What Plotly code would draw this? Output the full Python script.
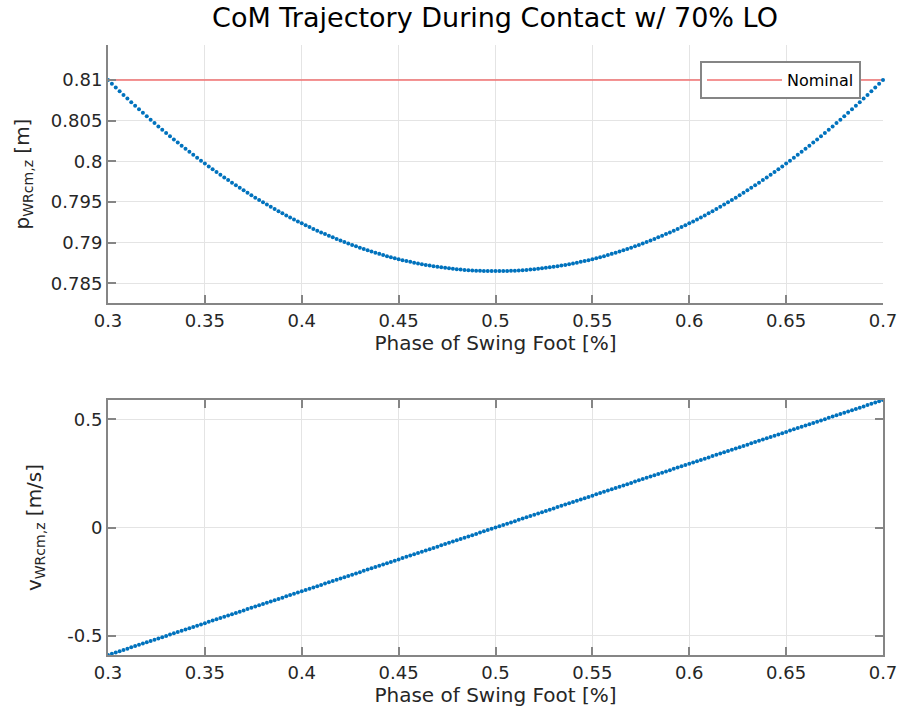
import plotly.graph_objects as go

# ---- data ----
phase = [
    0.300, 0.302, 0.304, 0.306, 0.308, 0.310, 0.312, 0.314, 0.316, 0.318,
    0.320, 0.322, 0.324, 0.326, 0.328, 0.330, 0.332, 0.334, 0.336, 0.338,
    0.340, 0.342, 0.344, 0.346, 0.348, 0.350, 0.352, 0.354, 0.356, 0.358,
    0.360, 0.362, 0.364, 0.366, 0.368, 0.370, 0.372, 0.374, 0.376, 0.378,
    0.380, 0.382, 0.384, 0.386, 0.388, 0.390, 0.392, 0.394, 0.396, 0.398,
    0.400, 0.402, 0.404, 0.406, 0.408, 0.410, 0.412, 0.414, 0.416, 0.418,
    0.420, 0.422, 0.424, 0.426, 0.428, 0.430, 0.432, 0.434, 0.436, 0.438,
    0.440, 0.442, 0.444, 0.446, 0.448, 0.450, 0.452, 0.454, 0.456, 0.458,
    0.460, 0.462, 0.464, 0.466, 0.468, 0.470, 0.472, 0.474, 0.476, 0.478,
    0.480, 0.482, 0.484, 0.486, 0.488, 0.490, 0.492, 0.494, 0.496, 0.498,
    0.500, 0.502, 0.504, 0.506, 0.508, 0.510, 0.512, 0.514, 0.516, 0.518,
    0.520, 0.522, 0.524, 0.526, 0.528, 0.530, 0.532, 0.534, 0.536, 0.538,
    0.540, 0.542, 0.544, 0.546, 0.548, 0.550, 0.552, 0.554, 0.556, 0.558,
    0.560, 0.562, 0.564, 0.566, 0.568, 0.570, 0.572, 0.574, 0.576, 0.578,
    0.580, 0.582, 0.584, 0.586, 0.588, 0.590, 0.592, 0.594, 0.596, 0.598,
    0.600, 0.602, 0.604, 0.606, 0.608, 0.610, 0.612, 0.614, 0.616, 0.618,
    0.620, 0.622, 0.624, 0.626, 0.628, 0.630, 0.632, 0.634, 0.636, 0.638,
    0.640, 0.642, 0.644, 0.646, 0.648, 0.650, 0.652, 0.654, 0.656, 0.658,
    0.660, 0.662, 0.664, 0.666, 0.668, 0.670, 0.672, 0.674, 0.676, 0.678,
    0.680, 0.682, 0.684, 0.686, 0.688, 0.690, 0.692, 0.694, 0.696, 0.698,
    0.700,
]

com_z = [
    0.81000, 0.80953, 0.80907, 0.80861, 0.80816, 0.80771, 0.80727, 0.80683, 0.80639, 0.80596,
    0.80554, 0.80511, 0.80470, 0.80429, 0.80388, 0.80348, 0.80308, 0.80269, 0.80230, 0.80192,
    0.80154, 0.80117, 0.80080, 0.80043, 0.80007, 0.79972, 0.79937, 0.79902, 0.79868, 0.79835,
    0.79802, 0.79769, 0.79737, 0.79705, 0.79674, 0.79643, 0.79613, 0.79583, 0.79553, 0.79524,
    0.79496, 0.79468, 0.79441, 0.79414, 0.79387, 0.79361, 0.79335, 0.79310, 0.79285, 0.79261,
    0.79238, 0.79214, 0.79191, 0.79169, 0.79147, 0.79126, 0.79105, 0.79085, 0.79065, 0.79045,
    0.79026, 0.79007, 0.78989, 0.78972, 0.78955, 0.78938, 0.78922, 0.78906, 0.78891, 0.78876,
    0.78862, 0.78848, 0.78834, 0.78821, 0.78809, 0.78797, 0.78785, 0.78774, 0.78764, 0.78754,
    0.78744, 0.78735, 0.78726, 0.78718, 0.78710, 0.78703, 0.78696, 0.78690, 0.78684, 0.78678,
    0.78674, 0.78669, 0.78665, 0.78662, 0.78659, 0.78656, 0.78654, 0.78652, 0.78651, 0.78650,
    0.78650, 0.78650, 0.78651, 0.78652, 0.78654, 0.78656, 0.78659, 0.78662, 0.78665, 0.78669,
    0.78674, 0.78678, 0.78684, 0.78690, 0.78696, 0.78703, 0.78710, 0.78718, 0.78726, 0.78735,
    0.78744, 0.78754, 0.78764, 0.78774, 0.78785, 0.78797, 0.78809, 0.78821, 0.78834, 0.78848,
    0.78862, 0.78876, 0.78891, 0.78906, 0.78922, 0.78938, 0.78955, 0.78972, 0.78989, 0.79007,
    0.79026, 0.79045, 0.79065, 0.79085, 0.79105, 0.79126, 0.79147, 0.79169, 0.79191, 0.79214,
    0.79238, 0.79261, 0.79285, 0.79310, 0.79335, 0.79361, 0.79387, 0.79414, 0.79441, 0.79468,
    0.79496, 0.79524, 0.79553, 0.79583, 0.79613, 0.79643, 0.79674, 0.79705, 0.79737, 0.79769,
    0.79802, 0.79835, 0.79868, 0.79902, 0.79937, 0.79972, 0.80007, 0.80043, 0.80080, 0.80117,
    0.80154, 0.80192, 0.80230, 0.80269, 0.80308, 0.80348, 0.80388, 0.80429, 0.80470, 0.80511,
    0.80554, 0.80596, 0.80639, 0.80683, 0.80727, 0.80771, 0.80816, 0.80861, 0.80907, 0.80953,
    0.81000,
]

com_vz = [
    -0.5900, -0.5841, -0.5782, -0.5723, -0.5664, -0.5605, -0.5546, -0.5487, -0.5428, -0.5369,
    -0.5310, -0.5251, -0.5192, -0.5133, -0.5074, -0.5015, -0.4956, -0.4897, -0.4838, -0.4779,
    -0.4720, -0.4661, -0.4602, -0.4543, -0.4484, -0.4425, -0.4366, -0.4307, -0.4248, -0.4189,
    -0.4130, -0.4071, -0.4012, -0.3953, -0.3894, -0.3835, -0.3776, -0.3717, -0.3658, -0.3599,
    -0.3540, -0.3481, -0.3422, -0.3363, -0.3304, -0.3245, -0.3186, -0.3127, -0.3068, -0.3009,
    -0.2950, -0.2891, -0.2832, -0.2773, -0.2714, -0.2655, -0.2596, -0.2537, -0.2478, -0.2419,
    -0.2360, -0.2301, -0.2242, -0.2183, -0.2124, -0.2065, -0.2006, -0.1947, -0.1888, -0.1829,
    -0.1770, -0.1711, -0.1652, -0.1593, -0.1534, -0.1475, -0.1416, -0.1357, -0.1298, -0.1239,
    -0.1180, -0.1121, -0.1062, -0.1003, -0.0944, -0.0885, -0.0826, -0.0767, -0.0708, -0.0649,
    -0.0590, -0.0531, -0.0472, -0.0413, -0.0354, -0.0295, -0.0236, -0.0177, -0.0118, -0.0059,
    0.0000, 0.0059, 0.0118, 0.0177, 0.0236, 0.0295, 0.0354, 0.0413, 0.0472, 0.0531,
    0.0590, 0.0649, 0.0708, 0.0767, 0.0826, 0.0885, 0.0944, 0.1003, 0.1062, 0.1121,
    0.1180, 0.1239, 0.1298, 0.1357, 0.1416, 0.1475, 0.1534, 0.1593, 0.1652, 0.1711,
    0.1770, 0.1829, 0.1888, 0.1947, 0.2006, 0.2065, 0.2124, 0.2183, 0.2242, 0.2301,
    0.2360, 0.2419, 0.2478, 0.2537, 0.2596, 0.2655, 0.2714, 0.2773, 0.2832, 0.2891,
    0.2950, 0.3009, 0.3068, 0.3127, 0.3186, 0.3245, 0.3304, 0.3363, 0.3422, 0.3481,
    0.3540, 0.3599, 0.3658, 0.3717, 0.3776, 0.3835, 0.3894, 0.3953, 0.4012, 0.4071,
    0.4130, 0.4189, 0.4248, 0.4307, 0.4366, 0.4425, 0.4484, 0.4543, 0.4602, 0.4661,
    0.4720, 0.4779, 0.4838, 0.4897, 0.4956, 0.5015, 0.5074, 0.5133, 0.5192, 0.5251,
    0.5310, 0.5369, 0.5428, 0.5487, 0.5546, 0.5605, 0.5664, 0.5723, 0.5782, 0.5841,
    0.5900,
]

nominal_phase = [0.3, 0.7]
nominal_z = [0.81, 0.81]

x_ticks = [0.3, 0.35, 0.4, 0.45, 0.5, 0.55, 0.6, 0.65, 0.7]
x_tick_labels = ["0.3", "0.35", "0.4", "0.45", "0.5", "0.55", "0.6", "0.65", "0.7"]
z_ticks = [0.785, 0.79, 0.795, 0.8, 0.805, 0.81]
z_tick_labels = ["0.785", "0.79", "0.795", "0.8", "0.805", "0.81"]
v_ticks = [-0.5, 0, 0.5]
v_tick_labels = ["-0.5", "0", "0.5"]

# ---- styling ----
FONT = "DejaVu Sans"
BLUE = "#0072BD"
AXIS_COL = "#858585"
GRID_COL = "#e4e4e4"
TXT = "#262626"
W, H = 901, 721

fig = go.Figure()

fig.add_trace(go.Scatter(
    x=nominal_phase, y=nominal_z, mode="lines", name="Nominal",
    line=dict(color="#f07070", width=1.5), xaxis="x", yaxis="y",
    showlegend=True,
))
fig.add_trace(go.Scatter(
    x=phase, y=com_z, mode="markers", name="CoM z",
    marker=dict(color=BLUE, size=4), xaxis="x", yaxis="y",
    showlegend=False, cliponaxis=False,
))
fig.add_trace(go.Scatter(
    x=phase, y=com_vz, mode="markers", name="CoM vz",
    marker=dict(color=BLUE, size=4), xaxis="x2", yaxis="y2",
    showlegend=False, cliponaxis=False,
))

x_dom = [108 / W, 883 / W]
y_dom_top = [1 - 303 / H, 1 - 45 / H]
y_dom_bot = [1 - 655 / H, 1 - 400 / H]

common_x = dict(
    range=[0.3, 0.7], tickvals=x_ticks, ticktext=x_tick_labels,
    showgrid=True, gridcolor=GRID_COL, gridwidth=1, zeroline=False,
    showline=True, linecolor=AXIS_COL, linewidth=2, automargin=False,
    ticks="inside", ticklen=8, tickcolor=AXIS_COL, tickwidth=2,
    tickfont=dict(family=FONT, size=18, color=TXT),
    title=dict(text="Phase of Swing Foot [%]", font=dict(family=FONT, size=20, color=TXT), standoff=4),
)
common_y = dict(
    showgrid=True, gridcolor=GRID_COL, gridwidth=1, zeroline=False,
    showline=True, linecolor=AXIS_COL, linewidth=2, automargin=False,
    ticks="inside", ticklen=8, tickcolor=AXIS_COL, tickwidth=2,
    tickfont=dict(family=FONT, size=18, color=TXT),
)

fig.update_layout(
    width=W, height=H,
    margin=dict(l=0, r=0, t=0, b=0, autoexpand=False),
    paper_bgcolor="white", plot_bgcolor="white",
    font=dict(family=FONT, color=TXT),
    title=dict(text="CoM Trajectory During Contact w/ 70% LO",
               font=dict(family=FONT, size=27, color="#000000"),
               x=495 / W, xanchor="center", y=1 - 18 / H, yanchor="middle"),
    xaxis=dict(domain=x_dom, anchor="y", mirror=False, **common_x),
    yaxis=dict(domain=y_dom_top, anchor="x", range=[0.78258, 0.8143],
               tickvals=z_ticks, ticktext=z_tick_labels, mirror=False,
               title=dict(text="p<sub>WRcm,z</sub> [m]", font=dict(family=FONT, size=20, color=TXT), standoff=16),
               **common_y),
    xaxis2=dict(domain=x_dom, anchor="y2", mirror="allticks", **common_x),
    yaxis2=dict(domain=y_dom_bot, anchor="x2", range=[-0.59, 0.59],
                tickvals=v_ticks, ticktext=v_tick_labels, mirror="allticks",
                title=dict(text="v<sub>WRcm,z</sub> [m/s]", font=dict(family=FONT, size=20, color=TXT), standoff=20),
                **common_y),
    legend=dict(x=700 / W, y=1 - 61 / H, xanchor="left", yanchor="top",
                bgcolor="white", bordercolor=AXIS_COL, borderwidth=2,
                font=dict(family=FONT, size=16, color="#000000"),
                itemwidth=75, tracegroupgap=0),
    showlegend=True,
)

fig.write_html(
    "out.html",
    config={"displayModeBar": False},
    post_script="document.body.style.margin='0';document.body.style.padding='0';",
)
